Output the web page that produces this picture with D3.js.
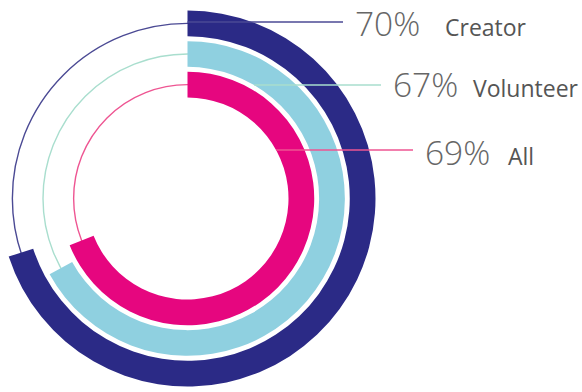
<!DOCTYPE html>
<html><head><meta charset="utf-8">
<script src="https://cdn.jsdelivr.net/npm/d3@7"></script>
<style>html,body{margin:0;padding:0;background:#fff;}svg{display:block;}</style>
</head><body>
<script>
const categories = ["Creator", "Volunteer", "All"];
const values = [70, 67, 69];
const valueLabels = ["70%", "67%", "69%"];
const colors = ["#2b2a86", "#8fd0e0", "#e6067f"];
const trackColors = ["#4b4a94", "#a9dece", "#ee5592"];

const W = 582, H = 392, cx = 187.5, cy = 198.5;
const svg = d3.select("body").append("svg").attr("width", W).attr("height", H);

const angle = d3.scaleLinear().domain([0, 100]).range([0, 2 * Math.PI]);
const ring = d3.scaleBand().domain(categories).range([188, 101]).paddingInner(0.16);
const labelYs = [36, 97, 165];
const lineYs = [22, 85, 150];
const pctX = [355, 393, 425];
const nameX = [445, 473, 508];

const g = svg.append("g").attr("transform", `translate(${cx},${cy})`);

// thin background tracks
categories.forEach((c, i) => {
  const r0 = ring(c), r1 = r0 + ring.bandwidth();
  g.append("circle").attr("r", (r0 + r1) / 2).attr("fill", "none")
    .attr("stroke", trackColors[i]).attr("stroke-width", 1.4);
});
// leader lines (behind rings)
categories.forEach((c, i) => {
  const dy = cy - lineYs[i], rIn = ring(c);
  const x0 = dy < rIn ? cx + Math.sqrt(rIn * rIn - dy * dy) : cx;
  svg.append("line").attr("x1", x0).attr("x2", pctX[i] - 12)
    .attr("y1", lineYs[i]).attr("y2", lineYs[i])
    .attr("stroke", trackColors[i]).attr("stroke-width", 1.4);
});
// arcs
categories.forEach((c, i) => {
  const arc = d3.arc().innerRadius(ring(c)).outerRadius(ring(c) + ring.bandwidth())
    .startAngle(0).endAngle(angle(values[i]));
  g.append("path").attr("d", arc()).attr("fill", colors[i]);
});
// labels
categories.forEach((c, i) => {
  svg.append("text").attr("x", pctX[i]).attr("y", labelYs[i])
    .attr("fill", "#666").text(valueLabels[i])
    .attr("font-family", "'Open Sans', 'Lato', sans-serif").attr("font-weight", 300)
    .attr("font-size", 33.5);
  svg.append("text").attr("x", nameX[i]).attr("y", labelYs[i])
    .attr("fill", "#555").text(c)
    .attr("font-family", "'Open Sans', 'Lato', sans-serif").attr("font-weight", 400)
    .attr("font-size", 23);
});
</script>
</body></html>
